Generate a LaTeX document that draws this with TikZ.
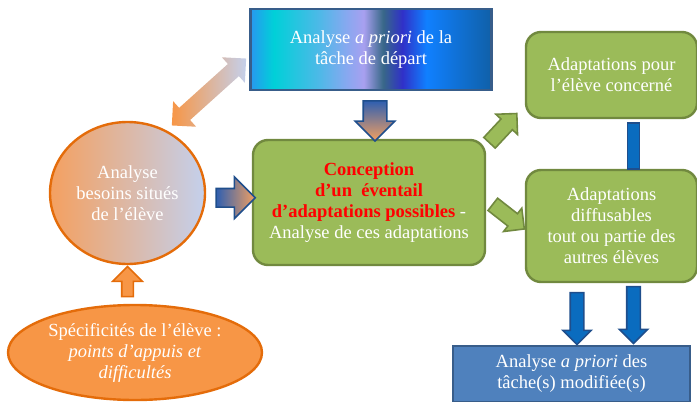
\documentclass[tikz,border=0pt]{standalone}
\usepackage{fontspec}
\setmainfont{Liberation Serif}
\usetikzlibrary{shapes.geometric,shapes.arrows,calc}
\definecolor{vertfond}{HTML}{9BBB59}
\definecolor{vertbord}{HTML}{71893F}
\definecolor{orangefond}{HTML}{F79646}
\definecolor{orangebord}{HTML}{E46C0A}
\definecolor{orangeclair}{HTML}{F4A060}
\definecolor{lavande}{HTML}{C4D0EC}
\definecolor{bleufond}{HTML}{4F81BD}
\definecolor{bleubord}{HTML}{385D8A}
\definecolor{bleufonce}{HTML}{1F4E8C}
\definecolor{bleuvif}{HTML}{0A6CBF}
\definecolor{bleufl}{HTML}{2F5FB0}
\definecolor{rougetexte}{HTML}{FF0000}
% degrade de la boite du haut
\definecolor{tacheA}{HTML}{2898F0}
\definecolor{tacheB}{HTML}{00D0D8}
\definecolor{tacheC}{HTML}{50B8E8}
\definecolor{tacheD}{HTML}{88A8F0}
\definecolor{tacheE}{HTML}{A8A0F0}
\definecolor{tacheF}{HTML}{386888}
\definecolor{tacheG}{HTML}{3030C8}
\definecolor{tacheH}{HTML}{1080FF}
\definecolor{tacheI}{HTML}{1060A8}
\pgfdeclarehorizontalshading{degradetache}{100bp}{color(0bp)=(tacheA); color(25bp)=(tacheA);
  color(29.8bp)=(tacheB); color(39.5bp)=(tacheC); color(45bp)=(tacheD); color(48.5bp)=(tacheE);
  color(52.5bp)=(tacheF); color(56.5bp)=(tacheG); color(61.5bp)=(tacheH); color(75bp)=(tacheI);
  color(100bp)=(tacheI)}
\newcommand{\police}{\fontsize{18.5}{21}\selectfont}

\begin{document}
\begin{tikzpicture}[x=1pt,y=-1pt,
  boite/.style={draw, line width=2.4pt, inner sep=0pt, align=center, text=white, font=\police},
  vert/.style={boite, rounded corners=15pt, fill=vertfond, draw=vertbord},
  fleche/.style n args={3}{single arrow, line width=1.6pt, inner xsep=0pt, inner ysep=#2/2,
    single arrow head extend=(#3-#2)/2, minimum height=#1},
  flechebleue/.style={fleche={#1}{12}{27}, rotate=-90, fill=bleuvif, draw=bleufonce}]
  \pgfmathsetmacro{\colonne}{611.5}
  \useasboundingbox (0,0) rectangle (697,402);
  % boites
  \node[boite, shade, shading=degradetache, draw=bleubord, minimum width=241, minimum height=81]
    (tache) at (371,49.5) {Analyse \textit{a priori} de la\\tâche de départ};
  \node[boite, ellipse, draw=orangebord, left color=orangeclair, right color=lavande,
    minimum width=155, minimum height=142] (besoins) at (127.5,193) {Analyse\\besoins situés\\de l’élève};
  \node[boite, ellipse, draw=orangebord, fill=orangefond, minimum width=254, minimum height=95]
    (specif) at (135,352.5) {Spécificités de l’élève :\\\textit{points d’appuis et}\\\textit{difficultés}};
  \node[vert, minimum width=232, minimum height=125] (conc) at (369,202.5)
    {\textcolor{rougetexte}{\bfseries Conception}\\\textcolor{rougetexte}{\bfseries d’un~ éventail}\\
     \textcolor{rougetexte}{\bfseries d’adaptations possibles} -\\Analyse de ces adaptations};
  \node[vert, minimum width=171, minimum height=86] (adapt1) at (\colonne,75)
    {Adaptations pour\\l’élève concerné};
  \node[vert, minimum width=171, minimum height=112] (adapt2) at (\colonne,226)
    {Adaptations\\diffusables\\tout ou partie des\\autres élèves};
  \node[boite, fill=bleufond, draw=bleubord, minimum width=237, minimum height=56]
    (modif) at (571.5,374) {Analyse \textit{a priori} des\\tâche(s) modifiée(s)};
  % fleches
  \node[double arrow, inner xsep=0pt, inner ysep=8pt, double arrow head extend=9pt,
    minimum height=100, rotate=42, left color=orangefond, right color=lavande]
    (aller) at (209,92) {};
  \node[fleche={39}{17}{40}, left color=bleufl, right color=orangeclair, draw=bleufonce]
    (versconc) at ($(besoins.east)!0.5!(conc.west)+(2,0)$) {};
  \node[fleche={40}{22}{38}, inner xsep=11pt, inner ysep=0pt, shape border rotate=270,
    top color=bleufl, bottom color=orangeclair, draw=bleufonce]
    (verstache) at ($(tache.south)!0.5!(conc.north)+(5,0)$) {};
  \node[fleche={30}{10}{28}, rotate=90, fill=orangefond, draw=orangebord]
    (versbesoins) at ($(besoins.south)!0.5!(besoins.south|-specif.north)$) {};
  \node[fleche={40}{14}{28}, rotate=47, fill=vertfond, draw=vertbord]
    (versadapt1) at ($(conc.north east)!0.5!(adapt1.south west)+(-5,2)$) {};
  \node[fleche={40}{14}{28}, rotate=-38, fill=vertfond, draw=vertbord]
    (versadapt2) at ($(conc.east)!0.5!(adapt2.west)$) {};
  \node[draw=bleufonce, fill=bleuvif, line width=1.6pt, inner sep=0pt, minimum width=12,
    minimum height=46] (lien) at ($(adapt1.south)!0.5!(adapt2.north)+(22,2)$) {};
  \node[flechebleue=52] (versmodif1) at ($(adapt2.south)+(-34.5,32)$) {};
  \node[flechebleue=57] (versmodif2) at ($(adapt2.south)+(22,28.5)$) {};
\end{tikzpicture}
\end{document}
